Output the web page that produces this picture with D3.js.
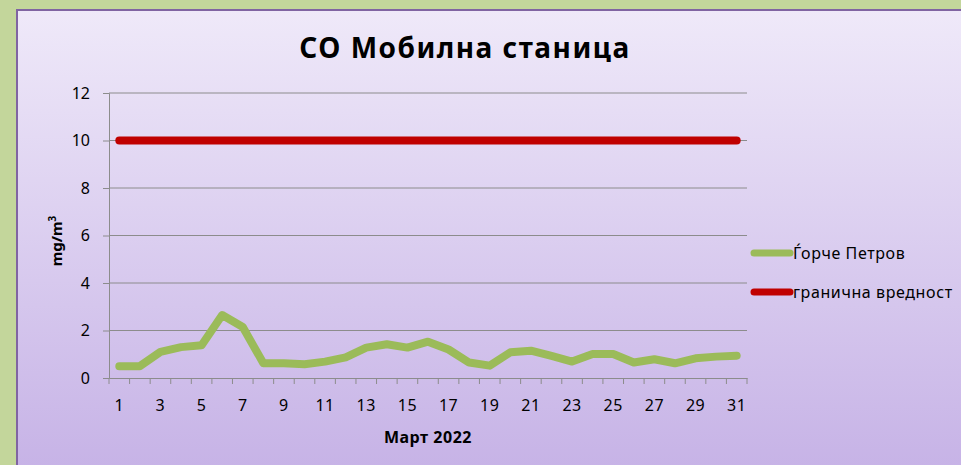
<!DOCTYPE html>
<html>
<head>
<meta charset="utf-8">
<script src="https://cdn.jsdelivr.net/npm/d3@7"></script>
<style>
  body { margin: 0; background: #c3d69b; }
  svg { display: block; }
  text { font-family: "Comic Sans MS", "Noto Sans", sans-serif; fill: #000; }
</style>
</head>
<body>
<div id="chart"></div>
<script>
const days = d3.range(1, 32);
const gorce = [0.5, 0.5, 1.1, 1.3, 1.38, 2.65, 2.15, 0.62, 0.62, 0.58, 0.69, 0.87, 1.28, 1.42, 1.28,
  1.53, 1.2, 0.65, 0.52, 1.08, 1.15, 0.93, 0.69, 1.01, 1.01, 0.65, 0.79, 0.62, 0.83, 0.9, 0.94];
const limit = days.map(() => 10);
const yTicks = [0, 2, 4, 6, 8, 10, 12];
const xLabels = days.filter(d => d % 2 === 1);

const series = [
  { name: 'Ѓорче Петров', values: gorce, color: '#9bbb59' },
  { name: 'гранична вредност', values: limit, color: '#c00000' }
];

const W = 961, H = 465;
const svg = d3.select('#chart').append('svg').attr('width', W).attr('height', H);

const defs = svg.append('defs');
const grad = defs.append('linearGradient').attr('id', 'bg').attr('x1', 0).attr('y1', 0).attr('x2', 0).attr('y2', 1);
grad.append('stop').attr('offset', '0%').attr('stop-color', '#efe9f9');
grad.append('stop').attr('offset', '100%').attr('stop-color', '#c6b2e6');

// panel
svg.append('rect').attr('x', 17).attr('y', 10).attr('width', W).attr('height', H)
  .attr('fill', 'url(#bg)').attr('stroke', '#8064a2').attr('stroke-width', 2);

const margin = { top: 93, left: 109, right: 214, bottom: 87 };
const width = W - margin.left - margin.right;
const height = H - margin.top - margin.bottom;

const x = d3.scaleBand().domain(days).range([0, width]);
const y = d3.scaleLinear().domain([0, 12]).range([height, 0]);

const g = svg.append('g').attr('transform', `translate(${margin.left},${margin.top})`);

// gridlines
g.append('g').selectAll('line').data(yTicks.filter(d => d > 0)).join('line')
  .attr('x1', 0).attr('x2', width).attr('y1', d => y(d)).attr('y2', d => y(d))
  .attr('stroke', '#8c8c8c').attr('stroke-width', 1);

// y axis
const yAxis = g.append('g').call(d3.axisLeft(y).tickValues(yTicks).tickSize(6).tickPadding(13));
yAxis.select('.domain').attr('stroke', '#8c8c8c');
yAxis.selectAll('.tick line').attr('stroke', '#8c8c8c');
yAxis.selectAll('text').attr('font-size', 16);

// x axis
const xAxis = g.append('g').attr('transform', `translate(0,${height})`)
  .call(d3.axisBottom(x).tickSize(0).tickPadding(22).tickFormat(d => xLabels.includes(d) ? d : ''));
xAxis.select('.domain').attr('stroke', '#8c8c8c');
xAxis.selectAll('text').attr('font-size', 16).attr('letter-spacing', 0.5);
xAxis.selectAll('.sep').data(days.concat([32])).join('line').attr('class', 'sep')
  .attr('x1', d => d <= 31 ? x(d) : width).attr('x2', d => d <= 31 ? x(d) : width)
  .attr('y1', 0).attr('y2', 6).attr('stroke', '#8c8c8c');

// lines
const line = d3.line().x((d, i) => x(days[i]) + x.bandwidth() / 2).y(d => y(d));
g.selectAll('.series').data(series).join('path').attr('class', 'series')
  .attr('d', d => line(d.values)).attr('fill', 'none')
  .attr('stroke', d => d.color).attr('stroke-width', 8)
  .attr('stroke-linecap', 'round').attr('stroke-linejoin', 'round');

// title
svg.append('text').attr('x', 465).attr('y', 58).attr('text-anchor', 'middle')
  .attr('font-size', 28).attr('font-weight', 'bold').attr('letter-spacing', 1.5).text('CO Мобилна станица');

// axis titles
svg.append('text').attr('x', 428).attr('y', 443).attr('text-anchor', 'middle')
  .attr('font-size', 16).attr('font-weight', 'bold').attr('letter-spacing', 0.5).text('Март 2022');
const yt = svg.append('text').attr('transform', 'translate(62,241) rotate(-90)').attr('text-anchor', 'middle')
  .attr('font-size', 15).attr('font-weight', 'bold');
yt.append('tspan').text('mg/m');
yt.append('tspan').attr('font-size', 10).attr('dy', -6).text('3');

// legend
const leg = svg.append('g').attr('transform', 'translate(754,253)');
const item = leg.selectAll('g').data(series).join('g').attr('transform', (d, i) => `translate(0,${i * 39})`);
item.append('line').attr('x1', 0).attr('x2', 36).attr('stroke', d => d.color)
  .attr('stroke-width', 7).attr('stroke-linecap', 'round');
item.append('text').attr('x', 39).attr('y', 6).attr('font-size', 16).attr('letter-spacing', 0.6).text(d => d.name);
</script>
</body>
</html>
